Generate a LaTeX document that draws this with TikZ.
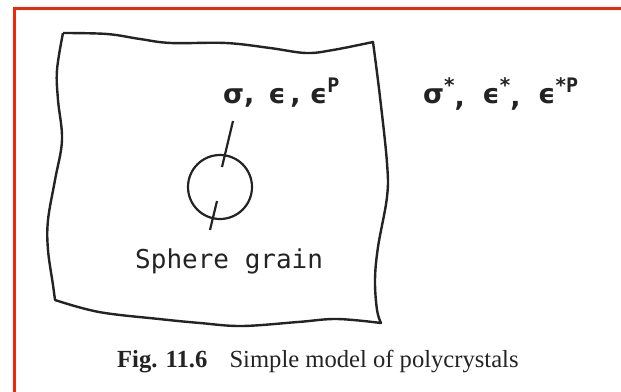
\documentclass[tikz,border=0pt]{standalone}
\usepackage{fontspec}
\newfontfamily\symfont{DejaVu Sans}
\newfontfamily\labfont{DejaVu Sans Mono}
\newfontfamily\capfont{Liberation Serif}
\definecolor{framered}{RGB}{240,40,10}
\definecolor{ink}{RGB}{35,35,35}
\newcommand{\upidx}[1]{\raisebox{0.4em}{\fontsize{20}{20}\selectfont #1}}
\newcommand{\lowcomma}{\raisebox{-0.12em}{,}\hspace{0.65em}}
\begin{document}
\begin{tikzpicture}[x=1pt,y=-1pt,
  outline/.style={draw=ink,line width=2.4pt,line join=round},
  leader/.style={draw=ink,line width=2.2pt},
  symtext/.style={anchor=base west,inner sep=0pt,font=\symfont\bfseries\fontsize{27}{27}\selectfont,text=ink},
  labtext/.style={anchor=base west,inner sep=0pt,font=\labfont\fontsize{26}{26}\selectfont,text=ink},
  captext/.style={anchor=base west,inner sep=0pt,font=\capfont\fontsize{24.6}{24.6}\selectfont,text=ink}]
\useasboundingbox (0,0) rectangle (621,391);
\fill[white] (0,0) rectangle (621,391);
% red frame
\draw[framered,line width=3pt] (14,395) -- (14,8) -- (625,8);
% blob
\draw[outline]
  plot[smooth,tension=0.6] coordinates {(63,33) (107,34) (140,39) (171,43) (226,43) (270,48) (306,53) (333,50) (373,42)}
  -- plot[smooth,tension=0.6] coordinates {(373,42) (380,97) (387,163) (387,197) (378,247) (375,280) (377,310) (381,323)}
  -- plot[smooth,tension=0.6] coordinates {(381,323) (337,319) (298,322) (242,326) (200,323) (159,319) (99,312) (55,300)}
  -- plot[smooth,tension=0.6] coordinates {(55,300) (53,285) (48,250) (48,220) (55,180) (62,140) (58,100) (57,70) (63,33)};
% grain
\node[draw=ink,line width=2.2pt,circle,minimum size=64pt,inner sep=0pt] (grain) at (220,187) {};
% labels
\node[symtext] (loc) at (223,103) {σ,\, ϵ\,, ϵ\upidx{\labfont P}};
\node[symtext] (glob) at (423,103) {σ\upidx{*}\lowcomma ϵ\upidx{*}\lowcomma ϵ\upidx{*\labfont P}};
\node[labtext] (sph) at (135,268) {Sphere grain};
\node[captext] (cap) at (117,367) {\textbf{Fig. 11.6}\hspace{0.9em}Simple model of polycrystals};
% leaders
\coordinate (l1a) at (233,121);
\coordinate (l1b) at (222,167);
\coordinate (l2a) at (217,201);
\coordinate (l2b) at (210,230);
\draw[leader] (l1a) -- (l1b);
\draw[leader] (l2a) -- (l2b);
\end{tikzpicture}
\end{document}
